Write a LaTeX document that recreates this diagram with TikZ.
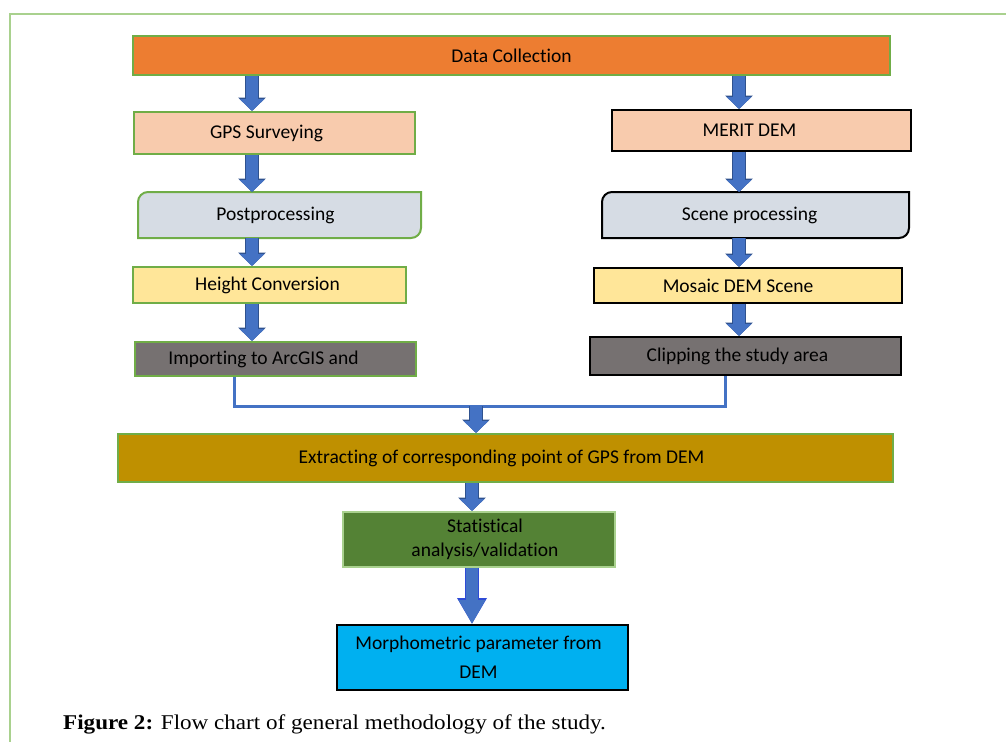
\documentclass[tikz,border=0pt]{standalone}
\usepackage{fontspec}
\setmainfont{Carlito}[Ligatures=NoCommon]
\newfontfamily\captionfont{Liberation Serif}[FakeStretch=1.1]
\usetikzlibrary{arrows.meta,backgrounds}
\definecolor{orangebox}{HTML}{ED7D31}
\definecolor{peachbox}{HTML}{F8CBAD}
\definecolor{greybluebox}{HTML}{D6DCE4}
\definecolor{yellowbox}{HTML}{FFE699}
\definecolor{greybox}{HTML}{767171}
\definecolor{goldbox}{HTML}{BF9000}
\definecolor{darkgreenbox}{HTML}{548235}
\definecolor{cyanbox}{HTML}{00B0F0}
\definecolor{greenline}{HTML}{70AD47}
\definecolor{lightgreenline}{HTML}{A9D18E}
\definecolor{arrowblue}{HTML}{4472C4}
\definecolor{arrowedge}{HTML}{2F528F}
\definecolor{outlineblue}{HTML}{2E4BD6}

\begin{document}
\begin{tikzpicture}[x=1pt,y=-1pt,
box/.style={rectangle, inner sep=0pt, line width=2pt, font=\fontsize{19.5}{24}\selectfont, align=center},
flow/.style={line width=12pt, arrowblue, -{Triangle[width=24pt,length=12pt]},
  preaction={draw=arrowedge, line width=14pt, -{Triangle[width=27pt,length=13.5pt]}}},
bigflow/.style={line width=12pt, arrowblue, -{Triangle[width=25pt,length=24pt]},
  preaction={draw=outlineblue, line width=14pt, -{Triangle[width=28pt,length=26pt]}}},
merge/.style={arrowblue, line width=3pt}]
\useasboundingbox (0,0) rectangle (1006,742);
\draw[lightgreenline, line width=2pt] (1006,14) -- (10,14) -- (10,742);

\node[box, fill=orangebox, draw=greenline, minimum width=757pt, minimum height=39pt] (data) at (511.5,55.5) {Data Collection};
\node[box, fill=peachbox, draw=greenline, minimum width=281pt, minimum height=42pt] (gps) at (274.5,133) {GPS Surveying\hspace*{16pt}};
\node[box, fill=peachbox, draw=black, minimum width=299pt, minimum height=41pt] (merit) at (761.5,130.5) {MERIT DEM\hspace*{24pt}};
\node[box, minimum width=281pt, minimum height=44pt] (post) at (279.5,215) {Postprocessing\hspace*{8pt}};
\node[box, minimum width=305pt, minimum height=44pt] (scene) at (755.5,215) {Scene processing\hspace*{12pt}};
\node[box, fill=yellowbox, draw=greenline, minimum width=273pt, minimum height=36pt] (height) at (269.5,285) {Height Conversion\hspace*{4pt}};
\node[box, fill=yellowbox, draw=black, minimum width=308pt, minimum height=35pt] (mosaic) at (748,285.5) {Mosaic DEM Scene\hspace*{20pt}};
\node[box, fill=greybox, draw=greenline, minimum width=281pt, minimum height=34pt] (imp) at (275.5,359) {Importing to ArcGIS and\hspace*{24pt}};
\node[box, fill=greybox, draw=black, minimum width=311pt, minimum height=38pt] (clip) at (745.5,356) {Clipping the study area\hspace*{16pt}};
\node[box, fill=goldbox, draw=greenline, minimum width=775pt, minimum height=48pt] (extract) at (505.5,458) {Extracting of corresponding point of GPS from DEM\hspace*{8pt}};
\node[box, fill=darkgreenbox, draw=lightgreenline, minimum width=272pt, minimum height=55pt] (stat) at (479,539.5) {\hspace*{12pt}Statistical\\\hspace*{12pt}analysis/validation};
\node[box, fill=cyanbox, draw=black, minimum width=291pt, minimum height=65pt] (morph) at (482.5,657.5) {Morphometric parameter from\hspace*{8pt}\\[5pt]DEM\hspace*{8pt}};

\begin{scope}[on background layer]
\filldraw[fill=greybluebox, draw=greenline, line width=2pt] (post.south west) [rounded corners=10pt] -- (post.north west) [sharp corners] -- (post.north east) [rounded corners=10pt] -- (post.south east) [sharp corners] -- cycle;
\filldraw[fill=greybluebox, draw=black, line width=2pt] (scene.south west) [rounded corners=10pt] -- (scene.north west) [sharp corners] -- (scene.north east) [rounded corners=10pt] -- (scene.south east) [sharp corners] -- cycle;
\end{scope}

\coordinate (lx) at (252,0);
\coordinate (rx) at (739,0);
\coordinate (mx) at (472,0);
\coordinate (jl) at (234,406);
\coordinate (jr) at (725,406);
\coordinate (jm) at (476,406);

\draw[flow] (data.south -| lx) -- (gps.north -| lx);
\draw[flow] (gps.south -| lx) -- (post.north -| lx);
\draw[flow] (post.south -| lx) -- (height.north -| lx);
\draw[flow] (height.south -| lx) -- (imp.north -| lx);
\draw[flow] (data.south -| rx) -- (merit.north -| rx);
\draw[flow] (merit.south -| rx) -- (scene.north -| rx);
\draw[flow] (scene.south -| rx) -- (mosaic.north -| rx);
\draw[flow] (mosaic.south -| rx) -- (clip.north -| rx);
\draw[merge] (imp.south -| jl) -- (jl) -- (jr) -- (clip.south -| jr);
\draw[flow] (jm) -- (extract.north -| jm);
\draw[flow] (extract.south -| mx) -- (stat.north -| mx);
\draw[bigflow] (stat.south -| mx) -- (morph.north -| mx);

\node[anchor=base west, inner sep=0pt, font=\captionfont\fontsize{21}{25}\selectfont] (caption) at (63,729) {\textbf{Figure 2:} Flow chart of general methodology of the study.};
\end{tikzpicture}
\end{document}
